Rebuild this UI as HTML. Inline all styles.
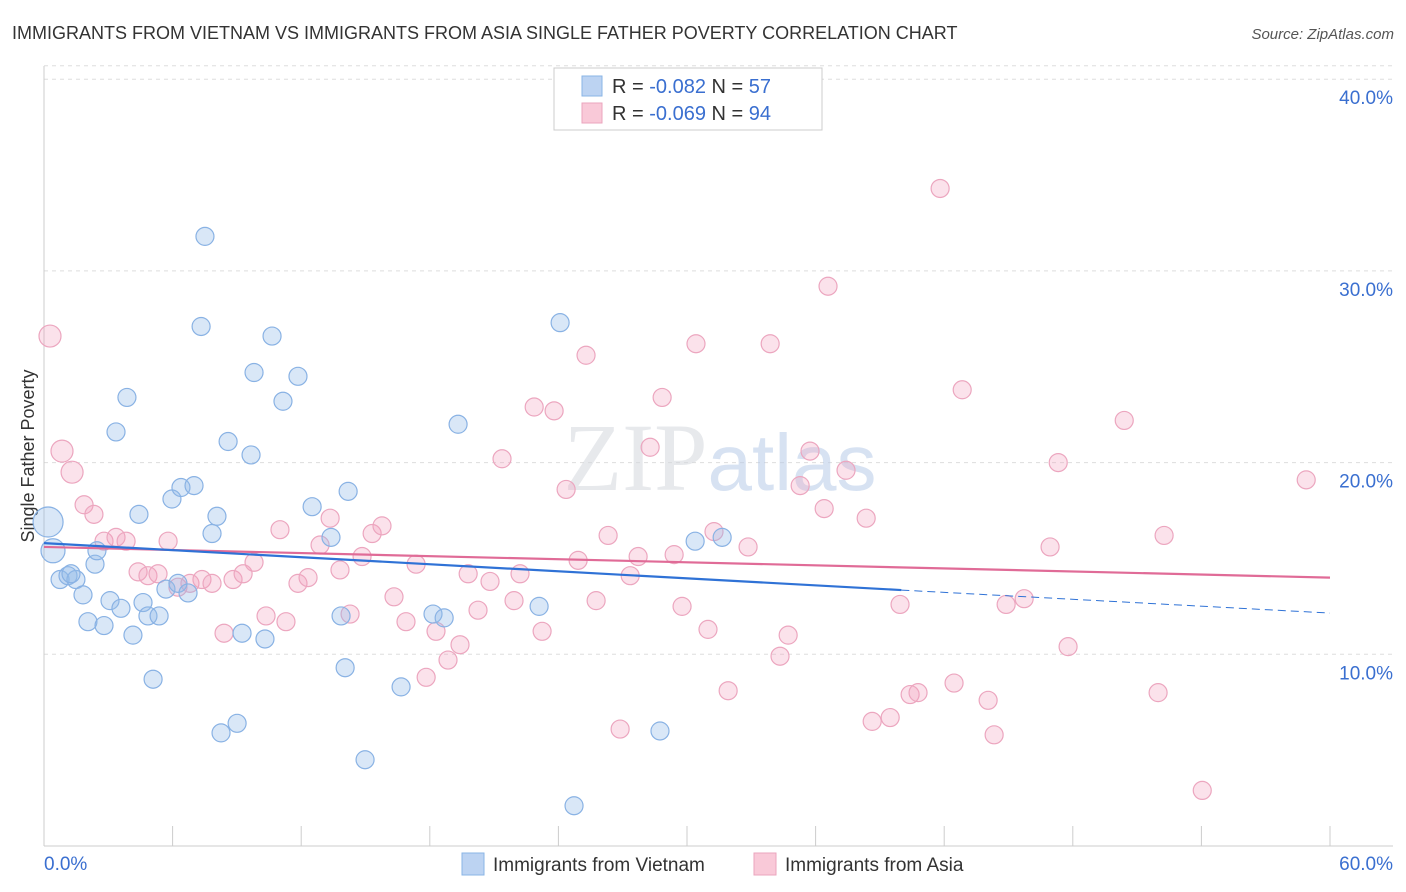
<!DOCTYPE html>
<html><head><meta charset="utf-8"><style>
body{margin:0;background:#fff;font-family:"Liberation Sans",sans-serif;}
svg{display:block}
</style></head><body>
<svg id="chart" width="1406" height="892">
<text x="12" y="39" font-size="18" fill="#333">IMMIGRANTS FROM VIETNAM VS IMMIGRANTS FROM ASIA SINGLE FATHER POVERTY CORRELATION CHART</text>
<text x="1394" y="39" font-size="15" fill="#555" font-style="italic" text-anchor="end">Source: ZipAtlas.com</text>
<text transform="translate(34,456) rotate(-90)" font-size="18" fill="#333" text-anchor="middle">Single Father Poverty</text>
<g id="grid"></g><g id="ticks"></g>
<text x="720" y="490" font-size="96" fill="#d4d8de" opacity="0.55" text-anchor="middle" font-family="Liberation Serif,serif">ZIP<tspan fill="#b7cbe8" font-family="Liberation Sans,sans-serif" font-size="80">atlas</tspan></text>
<g id="marks"></g>
<g>
<rect x="554" y="68" width="268" height="62" fill="#fff" stroke="#ccc"/>
<rect x="582" y="76" width="20" height="20" fill="#bcd3f2" stroke="#8ab4e6"/>
<rect x="582" y="103" width="20" height="20" fill="#f9c9d8" stroke="#eba5be"/>
<text x="612" y="93" font-size="20" fill="#333">R = <tspan fill="#3a6fd0">-0.082</tspan>   N = <tspan fill="#3a6fd0">57</tspan></text>
<text x="612" y="120" font-size="20" fill="#333">R = <tspan fill="#3a6fd0">-0.069</tspan>   N = <tspan fill="#3a6fd0">94</tspan></text>
</g>
<g>
<rect x="462" y="853" width="22" height="22" fill="#bcd3f2" stroke="#8ab4e6"/>
<text x="493" y="871" font-size="19" fill="#333">Immigrants from Vietnam</text>
<rect x="754" y="853" width="22" height="22" fill="#f9c9d8" stroke="#eba5be"/>
<text x="785" y="871" font-size="19" fill="#333">Immigrants from Asia</text>
</g>
</svg>
<script>
const yTicks=[10,20,30,40];
const yTickLabels=["10.0%","20.0%","30.0%","40.0%"];
const xTicks=[0,6,12,18,24,30,36,42,48,54,60];
const xEndLabels=["0.0%","60.0%"];
const vietX=[0.19,0.42,0.75,1.12,1.49,1.26,1.82,2.05,2.38,2.47,2.8,3.08,3.36,3.59,3.87,4.15,4.43,4.62,4.85,5.09,5.37,5.69,5.97,6.25,6.39,6.72,7.0,7.33,7.51,7.84,8.07,8.26,8.59,9.01,9.24,9.66,9.8,10.31,10.64,11.15,11.85,12.51,13.39,13.86,14.05,14.19,14.98,16.66,18.15,18.67,19.32,23.1,24.08,24.73,28.74,30.38,31.64];
const vietY=[16.9,15.4,13.9,14.1,13.9,14.2,13.1,11.7,14.7,15.4,11.5,12.8,21.6,12.4,23.4,11.0,17.3,12.7,12.0,8.7,12.0,13.4,18.1,13.7,18.7,13.2,18.8,27.1,31.8,16.3,17.2,5.9,21.1,6.4,11.1,20.4,24.7,10.8,26.6,23.2,24.5,17.7,16.1,12.0,9.3,18.5,4.5,8.3,12.1,11.9,22.0,12.5,27.3,2.1,6.0,15.9,16.1];
const asiaX=[0.28,0.84,1.31,1.87,2.33,2.8,3.36,3.83,4.39,4.85,5.32,5.79,6.25,6.81,7.37,7.84,8.4,8.82,9.29,9.8,10.36,11.01,11.29,11.85,12.32,12.88,13.35,13.81,14.28,14.84,15.31,15.77,16.33,16.89,17.36,17.83,18.29,18.85,19.41,19.79,20.25,20.81,21.37,21.93,22.21,22.87,23.24,23.8,24.36,24.92,25.29,25.76,26.32,26.88,27.35,27.72,28.28,28.84,29.4,29.77,30.42,30.98,31.26,31.92,32.85,33.88,34.34,34.72,35.28,35.74,36.4,36.58,37.42,38.36,38.64,39.48,39.94,40.41,40.78,41.81,42.46,42.84,44.05,44.33,44.89,45.73,47.32,46.94,47.78,50.4,51.98,52.26,54.04,58.89];
const asiaY=[26.6,20.6,19.5,17.8,17.3,15.9,16.1,15.9,14.3,14.1,14.2,15.9,13.5,13.7,13.9,13.7,11.1,13.9,14.2,14.8,12.0,16.5,11.7,13.7,14.0,15.7,17.1,14.4,12.1,15.1,16.3,16.7,13.0,11.7,14.7,8.8,11.2,9.7,10.5,14.2,12.3,13.8,20.2,12.8,14.2,22.9,11.2,22.7,18.6,14.9,25.6,12.8,16.2,6.1,14.1,15.1,20.8,23.4,15.2,12.5,26.2,11.3,16.4,8.1,15.6,26.2,9.9,11.0,18.8,20.6,17.6,29.2,19.6,17.1,6.5,6.7,12.6,7.9,8.0,34.3,8.5,23.8,7.6,5.8,12.6,12.9,20.0,15.6,10.4,22.2,8.0,16.2,2.9,19.1];
const vietTrend=[15.8,13.35,12.15]; // at x=0, 40, 60
const asiaTrend=[15.6,14.0];      // at x=0, 60
const NS="http://www.w3.org/2000/svg";
const X=v=>44+v/60*1286, Y=v=>846-v*19.17;
function mk(tag,attrs,parent){const e=document.createElementNS(NS,tag);for(const k in attrs)e.setAttribute(k,attrs[k]);parent.appendChild(e);return e;}
const grid=document.getElementById('grid'),ticks=document.getElementById('ticks'),marks=document.getElementById('marks');
yTicks.forEach((t,i)=>{
 const l=mk('line',{x1:44,x2:1393,y1:Y(t),y2:Y(t),stroke:'#ddd','stroke-dasharray':'4,4'},grid);
 
 
 const tx=mk('text',{x:1393,y:Y(t)+25,'font-size':19,fill:'#3a6fd0','text-anchor':'end'},grid);
 tx.textContent=yTickLabels[i];
 
 
});
mk('line',{x1:44,x2:1393,y1:Y(40.7),y2:Y(40.7),stroke:'#ddd','stroke-dasharray':'4,4'},grid);
const ya=mk('line',{x1:44,x2:44,y1:66,y2:846,stroke:'#ccc'},ticks);


const xa=mk('line',{x1:44,x2:1393,y1:846,y2:846,stroke:'#ccc'},ticks);


xTicks.forEach(t=>{
 const l=mk('line',{x1:X(t),x2:X(t),y1:826,y2:846,stroke:'#ccc'},ticks);
 
 
});
[[0,'start'],[60,'end']].forEach((p,i)=>{
 const t=mk('text',{x:i?1393:44,y:870,'font-size':19,fill:'#3a6fd0','text-anchor':p[1]},ticks);
 t.textContent=xEndLabels[i];
 
 
});
asiaX.forEach((x,i)=>{
 const c=mk('circle',{cx:X(x),cy:Y(asiaY[i]),r:i<3?11:9,fill:'rgba(242,160,188,0.3)',stroke:'#eca6bf','stroke-width':1.2},marks);
 
 
});
vietX.forEach((x,i)=>{
 const c=mk('circle',{cx:X(x),cy:Y(vietY[i]),r:i==0?15:(i==1?12:9),fill:'rgba(147,186,232,0.35)',stroke:'#89b2e4','stroke-width':1.2},marks);
 
 
});
const l1=mk('line',{x1:X(0),y1:Y(asiaTrend[0]),x2:X(60),y2:Y(asiaTrend[1]),stroke:'#e06b97','stroke-width':2.2},marks);


const l2=mk('line',{x1:X(0),y1:Y(vietTrend[0]),x2:X(40),y2:Y(vietTrend[1]),stroke:'#2f72d6','stroke-width':2.2},marks);


const l3=mk('line',{x1:X(40),y1:Y(vietTrend[1]),x2:X(60),y2:Y(vietTrend[2]),stroke:'#2f72d6','stroke-width':1,'stroke-dasharray':'8,5'},marks);


</script>
</body></html>
